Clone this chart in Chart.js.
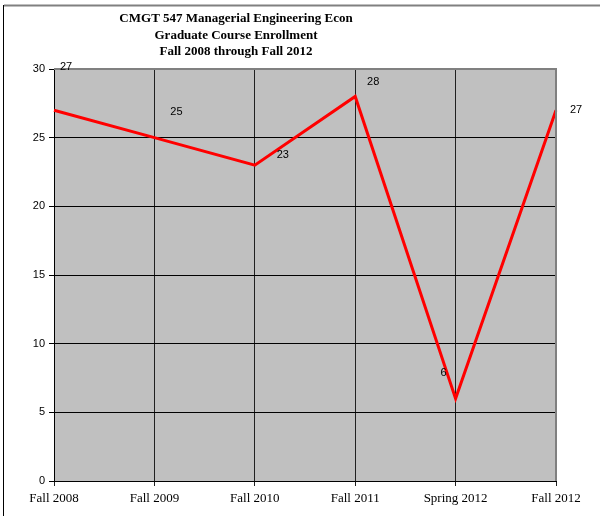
<!DOCTYPE html>
<html>
<head>
<meta charset="utf-8">
<script src="https://cdn.jsdelivr.net/npm/chart.js@4"></script>
<style>
  html, body { margin: 0; padding: 0; background: #fff; }
  #wrap { width: 600px; height: 516px; position: relative; }
</style>
</head>
<body>
<div id="wrap"><canvas id="enrollChart" width="600" height="516"></canvas></div>
<script>
// Enrollment per term
const terms = ['Fall 2008', 'Fall 2009', 'Fall 2010', 'Fall 2011', 'Spring 2012', 'Fall 2012'];
const enrollment = [27, 25, 23, 28, 6, 27];
const yTicks = [0, 5, 10, 15, 20, 25, 30];
const titleLines = ['CMGT 547 Managerial Engineering Econ', 'Graduate Course Enrollment', 'Fall 2008 through Fall 2012'];

// where each value label sits relative to its point (px)
const labelOffsets = [[12, -43], [22, -26], [28, -10], [18, -14], [-12, -26], [20, 0]];

// gray plot background, frame lines and the title
const decor = {
    id: 'decor',
    beforeDraw(chart) {
        const ctx = chart.ctx;
        const a = chart.chartArea;
        ctx.save();
        ctx.fillStyle = '#fff';
        ctx.fillRect(0, 0, chart.width, chart.height);
        ctx.fillStyle = '#c0c0c0';
        ctx.fillRect(a.left, a.top, a.right - a.left, a.bottom - a.top);
        // outer frame (top and left)
        ctx.strokeStyle = '#808080';
        ctx.lineWidth = 2;
        ctx.beginPath();
        ctx.moveTo(4, 5.5);
        ctx.lineTo(600, 5.5);
        ctx.stroke();
        ctx.strokeStyle = '#000';
        ctx.lineWidth = 1;
        ctx.beginPath();
        ctx.moveTo(3.5, 5);
        ctx.lineTo(3.5, 516);
        ctx.stroke();
        // title
        ctx.fillStyle = '#000';
        ctx.font = 'bold 13px "Liberation Serif", "Times New Roman", serif';
        ctx.textAlign = 'center';
        ctx.textBaseline = 'middle';
        titleLines.forEach((t, i) => ctx.fillText(t, 236, 19 + i * 16.5));
        ctx.restore();
    },
    afterDraw(chart) {
        const ctx = chart.ctx;
        const a = chart.chartArea;
        ctx.save();
        // gray top and right edge of the plot area
        ctx.strokeStyle = '#808080';
        ctx.lineWidth = 2;
        ctx.beginPath();
        ctx.moveTo(a.left, a.top);
        ctx.lineTo(a.right, a.top);
        ctx.lineTo(a.right, a.bottom);
        ctx.stroke();
        // value labels
        const meta = chart.getDatasetMeta(0);
        ctx.fillStyle = '#000';
        ctx.font = '11px "Liberation Sans", Arial, sans-serif';
        ctx.textAlign = 'center';
        ctx.textBaseline = 'middle';
        meta.data.forEach((pt, i) => {
            const off = labelOffsets[i];
            ctx.fillText(String(enrollment[i]), pt.x + off[0], pt.y + off[1]);
        });
        ctx.restore();
    }
};

function createEnrollmentChart() {
    const ctx = document.getElementById('enrollChart').getContext('2d');
    return new Chart(ctx, {
        type: 'line',
        data: {
            labels: terms,
            datasets: [{
                data: enrollment,
                borderColor: '#ff0000',
                borderWidth: 3,
                pointRadius: 0,
                tension: 0,
                fill: false
            }]
        },
        options: {
            responsive: false,
            animation: false,
            layout: { padding: { left: 0, right: 44, top: 69, bottom: 0 } },
            plugins: {
                legend: { display: false },
                tooltip: { enabled: false },
                title: { display: false }
            },
            scales: {
                x: {
                    type: 'category',
                    offset: false,
                    grid: { color: '#202020', lineWidth: 1, tickLength: 5, drawTicks: true },
                    border: { color: '#000', width: 1 },
                    ticks: {
                        color: '#000',
                        font: { family: '"Liberation Serif", "Times New Roman", serif', size: 13 },
                        padding: 5,
                        maxRotation: 0,
                        autoSkip: false
                    },
                    afterFit(scale) { scale.height = 35; }
                },
                y: {
                    min: 0,
                    max: 30,
                    afterBuildTicks(scale) { scale.ticks = yTicks.map(v => ({ value: v })); },
                    grid: { color: '#000', lineWidth: 1, tickLength: 5, drawTicks: true },
                    border: { color: '#000', width: 1 },
                    ticks: {
                        color: '#000',
                        font: { family: '"Liberation Sans", Arial, sans-serif', size: 11 },
                        padding: 4
                    },
                    afterFit(scale) { scale.width = 54; }
                }
            }
        },
        plugins: [decor]
    });
}

createEnrollmentChart();
</script>
</body>
</html>
